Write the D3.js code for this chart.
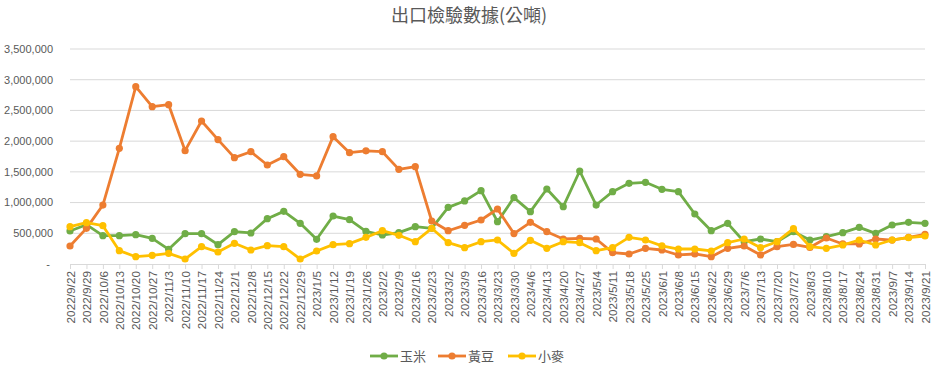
<!DOCTYPE html>
<html>
<head>
<meta charset="utf-8">
<script src="https://cdn.jsdelivr.net/npm/d3@7"></script>
<style>
  body { margin: 0; background: #fff; }
  svg text { fill: #595959; }
</style>
</head>
<body>
<div id="chart"></div>
<script>
let dates = ["2022/9/22","2022/9/29","2022/10/6","2022/10/13","2022/10/20","2022/10/27","2022/11/3","2022/11/10",
  "2022/11/17","2022/11/24","2022/12/1","2022/12/8","2022/12/15","2022/12/22","2022/12/29","2023/1/5","2023/1/12",
  "2023/1/19","2023/1/26","2023/2/2","2023/2/9","2023/2/16","2023/2/23","2023/3/2","2023/3/9","2023/3/16","2023/3/23",
  "2023/3/30","2023/4/6","2023/4/13","2023/4/20","2023/4/27","2023/5/4","2023/5/11","2023/5/18","2023/5/25","2023/6/1",
  "2023/6/8","2023/6/15","2023/6/22","2023/6/29","2023/7/6","2023/7/13","2023/7/20","2023/7/27","2023/8/3","2023/8/10",
  "2023/8/17","2023/8/24","2023/8/31","2023/9/7","2023/9/14","2023/9/21"];

let corn = [537000,640000,461000,461000,477000,418000,239000,493000,493000,315000,526000,505000,738000,857000,662000,
  402000,781000,722000,530000,472000,510000,608000,581000,922000,1026000,1194000,689000,1080000,852000,1221000,933000,
  1514000,960000,1177000,1313000,1330000,1216000,1177000,814000,542000,662000,363000,407000,363000,526000,390000,445000,
  510000,597000,499000,635000,679000,662000];

let soybean = [293000,580000,960000,1883000,2887000,2561000,2594000,1845000,2328000,2025000,1731000,1828000,1612000,
  1747000,1460000,1433000,2073000,1812000,1842000,1828000,1541000,1584000,700000,542000,630000,716000,895000,495000,
  679000,526000,407000,418000,407000,184000,163000,255000,228000,147000,163000,119000,255000,293000,147000,282000,318000,
  270000,423000,326000,326000,407000,390000,434000,483000];

let wheat = [608000,673000,624000,217000,119000,141000,174000,81000,282000,195000,337000,228000,298000,282000,81000,212000,
  315000,331000,434000,542000,467000,363000,581000,347000,266000,363000,391000,174000,385000,255000,363000,347000,217000,
  266000,434000,391000,296000,244000,244000,212000,347000,407000,266000,363000,575000,282000,255000,309000,391000,309000,
  391000,428000,456000];

let yTicks = [0,500000,1000000,1500000,2000000,2500000,3000000,3500000];

let seriesNames = ["玉米","黃豆","小麥"];
let seriesColors = ["#70AD47","#ED7D31","#FFC000"];

let width = 938, height = 369;
let plotLeft = 70, plotRight = 925, plotTop = 49, plotBottom = 264;

let svg = d3.select("#chart").append("svg")
  .attr("width", width)
  .attr("height", height);

let x = d3.scalePoint().domain(dates).range([plotLeft, plotRight]);
let y = d3.scaleLinear().domain([0, 3500000]).range([plotBottom, plotTop]);

// title
svg.append("text")
  .attr("x", 469).attr("y", 22)
  .attr("text-anchor", "middle")
  .style("font-family", "'Noto Sans CJK TC', sans-serif")
  .style("font-size", "18px")
  .text("出口檢驗數據(公噸)");

// grid
svg.append("g")
  .selectAll("line")
  .data(yTicks.filter(d => d > 0))
  .join("line")
  .attr("x1", plotLeft).attr("x2", plotRight)
  .attr("y1", d => y(d)).attr("y2", d => y(d))
  .attr("stroke", "#d9d9d9")
  .attr("stroke-width", 1);

// y axis labels
let fmt = d3.format(",");
svg.append("g")
  .selectAll("text")
  .data(yTicks)
  .join("text")
  .attr("x", d => d == 0 ? 50 : 53)
  .attr("y", d => y(d))
  .attr("dy", "0.35em")
  .attr("text-anchor", "end")
  .style("font-family", "'Liberation Sans', Arial, sans-serif")
  .style("font-size", "11px")
  .text(d => d == 0 ? "-" : fmt(d));

// x axis
let xAxis = svg.append("g")
  .attr("transform", "translate(0," + plotBottom + ")")
  .call(d3.axisBottom(x).tickSize(5).tickPadding(4));
xAxis.select(".domain").attr("stroke", "#d9d9d9");
xAxis.selectAll(".tick line").attr("stroke", "#d9d9d9");
xAxis.selectAll("text")
  .attr("transform", "rotate(-90)")
  .attr("x", -7)
  .attr("y", 0)
  .attr("dy", "0.35em")
  .style("text-anchor", "end")
  .style("fill", "#595959")
  .style("font-family", "'Liberation Sans', Arial, sans-serif")
  .style("font-size", "11.8px");

// lines
let allSeries = [corn, soybean, wheat];
let line = d3.line()
  .x((d, i) => x(dates[i]))
  .y(d => y(d));

allSeries.forEach((vals, k) => {
  svg.append("path")
    .attr("d", line(vals))
    .attr("fill", "none")
    .attr("stroke", seriesColors[k])
    .attr("stroke-width", 2.8)
    .attr("stroke-linejoin", "round");
  svg.append("g")
    .selectAll("circle")
    .data(vals)
    .join("circle")
    .attr("cx", (d, i) => x(dates[i]))
    .attr("cy", d => y(d))
    .attr("r", 3.6)
    .attr("fill", seriesColors[k]);
});

// legend
let legendX = [370, 438, 508];
let legend = svg.append("g");
seriesNames.forEach((name, k) => {
  let g = legend.append("g").attr("transform", "translate(" + legendX[k] + ",356)");
  g.append("line")
    .attr("x1", 0).attr("x2", 28)
    .attr("stroke", seriesColors[k])
    .attr("stroke-width", 2.8);
  g.append("circle").attr("cx", 14).attr("r", 3.6).attr("fill", seriesColors[k]);
  g.append("text")
    .attr("x", 30).attr("dy", "0.35em")
    .style("font-family", "'Noto Sans CJK TC', sans-serif")
    .style("font-size", "13px")
    .text(name);
});
</script>
</body>
</html>
